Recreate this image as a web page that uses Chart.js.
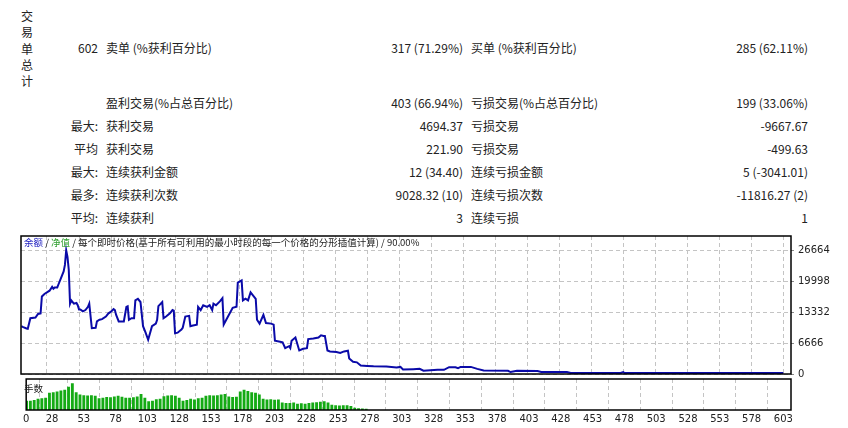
<!DOCTYPE html>
<html><head><meta charset="utf-8">
<script src="https://cdn.jsdelivr.net/npm/chart.js@4"></script>
<style>
body{margin:0;width:848px;height:428px;background:#fff;font-family:"Noto Sans CJK SC","DejaVu Sans",sans-serif;font-size:12px;color:#222;overflow:hidden;position:relative}
.t{position:absolute;white-space:nowrap;line-height:14px}
.r{text-align:right}
#c1{position:absolute;left:20px;top:226px}
#c2{position:absolute;left:20px;top:378px}
</style></head><body>
<div class="t" style="left:21px;top:8px;width:14px;line-height:16.3px">交<br>易<br>单<br>总<br>计</div>
<div id="tbl"></div>
<canvas id="c1" width="826" height="158"></canvas>
<canvas id="c2" width="826" height="50"></canvas>
<div class="t" style="left:24px;top:235px;font-size:9.5px;color:#222"><span style="color:#2020c0">余额</span> / <span style="color:#30a030">净值</span> / 每个即时价格(基于所有可利用的最小时段的每一个价格的分形插值计算) / 90.00%</div>
<div class="t" style="left:24px;top:381px;font-size:9.5px;color:#222">手数</div>
<script>
const rowLeft1=["602","","最大:","平均","最大:","最多:","平均:"];
const rowLabel1=["卖单 (%获利百分比)","盈利交易(%占总百分比)","获利交易","获利交易","连续获利金额","连续获利次数","连续获利"];
const rowValue1=["317 (71.29%)","403 (66.94%)","4694.37","221.90","12 (34.40)","9028.32 (10)","3"];
const rowLabel2=["买单 (%获利百分比)","亏损交易(%占总百分比)","亏损交易","亏损交易","连续亏损金额","连续亏损次数","连续亏损"];
const rowValue2=["285 (62.11%)","199 (33.06%)","-9667.67","-499.63","5 (-3041.01)","-11816.27 (2)","1"];
const rowY=[41,96,119,142,165,188,211];

const balX=[8,9,12,13,15,19,21,23,24,26,30,32,33,34,36,37,39,41,42,43,44,45,46,47,49,51,52,53,54,56,58,60,61,63,66,67,69,71,74,76,78,80,81,82,84,88,90,91,92,94,96,97,99,101,103,105,107,108,110,113,114,115,118,119,121,124,126,127,128,130,133,134,136,139,140,142,145,146,148,150,153,155,157,158,160,163,165,166,168,173,176,177,179,180,181,183,185,187,189,191,192,194,197,199,203,205,206,210,212,214,217,218,219,222,225,228,231,232,236,240,242,244,245,247,249,254,257,260,263,264,267,270,273,278,283,293,301,304,306,314,319,322,333,338,342,347,349,351,359,364,369,388,390,395,411,414,434,437,476,478,479,603];
const balance=[10300,10160,9810,9740,12040,12180,12950,13080,16700,17260,17960,18790,18370,18650,18650,19350,20740,22130,23520,26660,25260,22480,15170,15870,15170,15310,14820,13920,13920,13500,13780,14480,15170,9880,9950,11340,11690,11830,12390,13080,13430,13990,13780,12740,11340,11340,14480,14620,11690,12040,12040,15870,16220,15520,10300,8910,7380,8350,10300,10860,11690,14620,15520,12040,12390,13080,13780,13640,8770,8910,9600,9950,12390,12530,10300,10440,10650,14480,13780,14820,14480,14820,13780,15170,14820,15660,16360,10650,11690,14270,14480,19700,20040,20180,15870,16220,15870,17610,16910,16220,11690,10860,12740,11000,10860,10650,7170,6960,6820,5570,5990,5570,7170,7860,5080,5430,5570,7520,7660,7860,8350,8210,8210,5080,4870,4730,4520,4870,5010,3340,2640,2510,1810,1740,1670,1600,1390,1530,970,1040,1110,700,900,900,1460,1460,1250,1530,1530,1110,770,700,420,700,630,420,420,210,210,400,210,210];
const lotsX=[8,11,14,17,20,23,26,29,32,35,38,41,44,47,50,53,56,59,62,65,68,71,74,77,80,83,86,89,92,95,98,101,104,107,110,113,116,119,122,125,128,131,134,137,140,143,146,149,152,155,158,161,164,167,170,173,176,179,182,185,188,191,194,197,200,203,206,209,212,215,218,221,224,227,230,233,236,239,242,245,248,251,254,257,260,263,266,269,272,275];
const lots=[30,30,32,36,38,40,56,58,60,64,66,76,88,58,50,48,47,48,46,38,40,42,41,44,46,43,40,40,41,44,52,40,28,30,35,36,45,47,48,46,40,30,32,36,34,38,40,46,48,47,48,50,52,44,42,43,60,66,62,58,56,50,36,34,35,33,34,24,22,22,24,20,21,20,22,24,25,26,28,24,16,15,14,15,15,12,6,5,4,3];
const xTicks=[28,53,78,103,128,153,178,203,228,253,278,303,328,353,378,403,428,453,478,503,528,553,578,603];
const yTicks=[0,6666,13332,19998,26664];

const tbl=document.getElementById('tbl');
function add(txt,x,y,right){const d=document.createElement('div');d.className='t'+(right?' r':'');d.textContent=txt;d.style.top=y+'px';if(right){d.style.right=(848-x)+'px';}else d.style.left=x+'px';tbl.appendChild(d);}
rowY.forEach((y,i)=>{add(rowLeft1[i],98,y,true);add(rowLabel1[i],106,y);add(rowValue1[i],463,y,true);add(rowLabel2[i],471,y);add(rowValue2[i],808,y,true);});

const XMIN=7.7,XMAX=609;
function xScale(showLabels){const s={type:'linear',min:XMIN,max:XMAX,offset:false,
  afterBuildTicks:a=>{a.ticks=[{value:XMIN}].concat(xTicks.map(v=>({value:v})));},
  ticks:{display:showLabels,autoSkip:false,maxRotation:0,padding:3,color:'#222',font:{size:10,family:'DejaVu Sans'},callback:v=>v<10?'0':v},
  grid:{color:c=>c.tick&&c.tick.value<10?'rgba(0,0,0,0)':'#c4c4c4',drawTicks:false,lineWidth:1},
  border:{display:false,dash:[4,3]}};
  if(!showLabels)s.afterFit=a=>{a.height=0;};
  return s;}
const boxPlugin={id:'box',afterDraw(ch){const a=ch.chartArea,c=ch.ctx;c.save();c.strokeStyle='#000';c.lineWidth=1.5;c.strokeRect(a.left,a.top,a.right-a.left,a.bottom-a.top);c.restore();}};

new Chart(document.getElementById('c1'),{type:'line',
  data:{datasets:[{data:balX.map((x,i)=>({x,y:balance[i]})),borderColor:'#0a0aa8',borderWidth:2,pointRadius:0,tension:0,fill:false}]},
  options:{responsive:false,animation:false,layout:{padding:{top:1,bottom:1,left:1,right:0}},
    plugins:{legend:{display:false},tooltip:{enabled:false}},
    scales:{x:xScale(false),
      y:{position:'right',min:0,max:29750,afterFit:s=>{s.width=55;},
        afterBuildTicks:a=>{a.ticks=yTicks.map(v=>({value:v}));},
        ticks:{color:'#222',padding:4,font:{size:10,family:'DejaVu Sans'},callback:v=>String(v)},
        grid:{color:'#c4c4c4',drawTicks:true,tickLength:3,tickColor:'#888'},border:{display:false,dash:[4,3]}}}},
  plugins:[boxPlugin]});

new Chart(document.getElementById('c2'),{type:'bar',
  data:{datasets:[{data:lotsX.map((x,i)=>({x,y:lots[i]})),backgroundColor:'#14aa14',barThickness:2.2,categoryPercentage:1,barPercentage:1}]},
  options:{responsive:false,animation:false,layout:{padding:{top:1,bottom:0,left:1,right:0}},
    plugins:{legend:{display:false},tooltip:{enabled:false}},
    scales:{x:xScale(true),
      y:{position:'right',min:0,max:103,afterFit:s=>{s.width=55;},ticks:{display:false},grid:{display:false},border:{display:false}}}},
  plugins:[boxPlugin]});
</script></body></html>
